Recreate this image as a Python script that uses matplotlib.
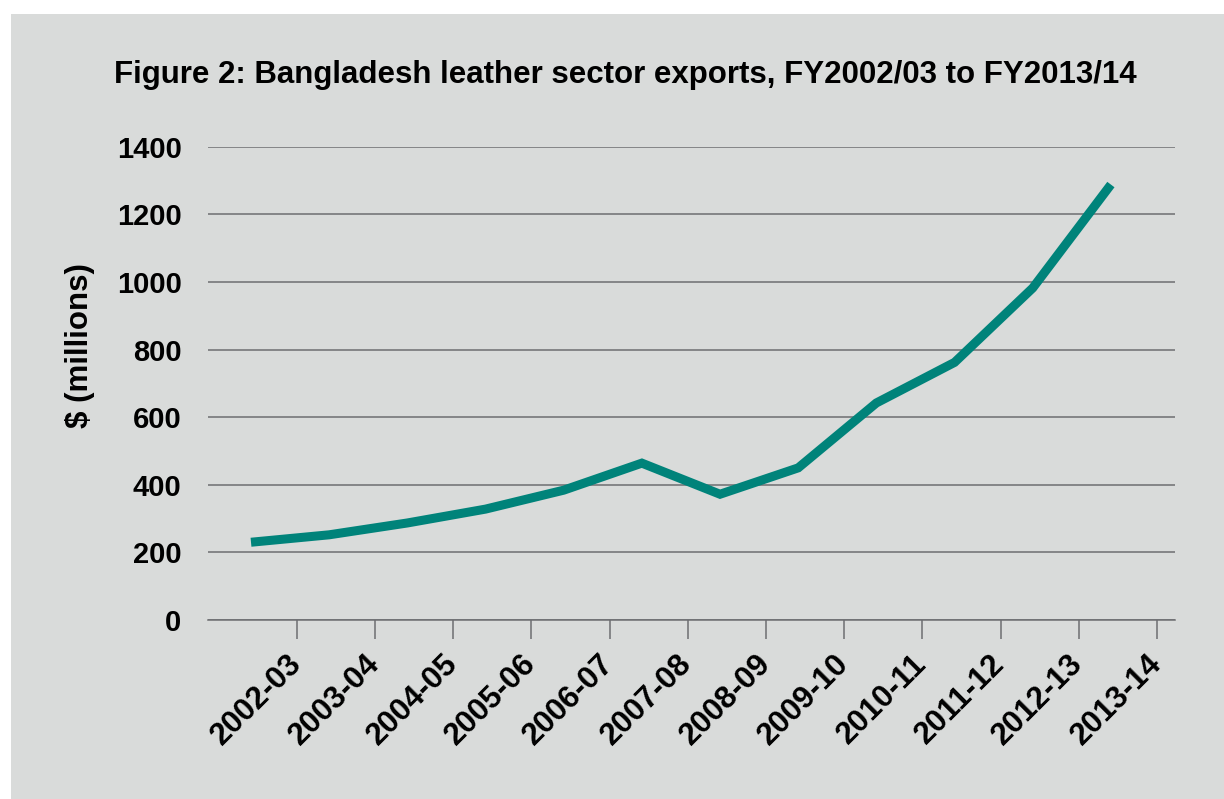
import matplotlib
matplotlib.use("Agg")
import matplotlib.pyplot as plt
from matplotlib.patches import Rectangle
import numpy as np

years = ["2002-03", "2003-04", "2004-05", "2005-06", "2006-07", "2007-08",
         "2008-09", "2009-10", "2010-11", "2011-12", "2012-13", "2013-14"]
exports = [230, 252, 287, 328, 384, 464, 372, 450, 642, 762, 982, 1288]
yticks = [0, 200, 400, 600, 800, 1000, 1200, 1400]
title = "Figure 2: Bangladesh leather sector exports, FY2002/03 to FY2013/14"
ylabel = "$ (millions)"

BG = "#d9dbda"
TEAL = "#00837a"
GRID = "#6d6e71"
FONT = ["Liberation Sans", "DejaVu Sans"]

W, H = 1224, 799
fig = plt.figure(figsize=(W / 100, H / 100), dpi=100, facecolor="white")
fig.patches.append(Rectangle((11 / W, 0), 1 - 11 / W, 1 - 14 / H,
                             transform=fig.transFigure, facecolor=BG,
                             edgecolor="none", zorder=-10))

left, right, bottom, top = 208, 1175, 620, 146.7
ax = fig.add_axes([left / W, 1 - bottom / H, (right - left) / W, (bottom - top) / H])
ax.set_facecolor("none")

x = np.arange(len(exports))
ax.plot(x, exports, color=TEAL, lw=6.5, solid_capstyle="butt",
        solid_joinstyle="miter", zorder=3)

ax.set_xlim(-0.55, 11.82)
ax.set_ylim(0, 1400)
ax.set_yticks(yticks)
ax.set_yticklabels([str(v) for v in yticks], fontsize=21, fontweight="bold",
                   family=FONT)
ax.tick_params(axis="y", length=0, pad=19)
ax.yaxis.grid(True, color=GRID, lw=1.1)
ax.set_axisbelow(True)

offset = 0.588
ax.set_xticks(x + offset)
ax.set_xticklabels(years, fontsize=22.5, fontweight="bold", family=FONT,
                   rotation=45, ha="right", va="center", rotation_mode="anchor")
ax.tick_params(axis="x", length=13.5, width=1.1, color=GRID, pad=15)

for s in ["top", "right", "left"]:
    ax.spines[s].set_visible(False)
ax.spines["bottom"].set_color(GRID)
ax.spines["bottom"].set_linewidth(1.1)

fig.text(625 / W, 1 - 83 / H, title, ha="center", va="baseline",
         fontsize=22.5, fontweight="bold", family=FONT)
fig.text(80 / W, 1 - 346 / H, ylabel, rotation=90, ha="center", va="center",
         fontsize=22.5, fontweight="bold", family=FONT)

fig.savefig("out.png", dpi=100, facecolor="white")
